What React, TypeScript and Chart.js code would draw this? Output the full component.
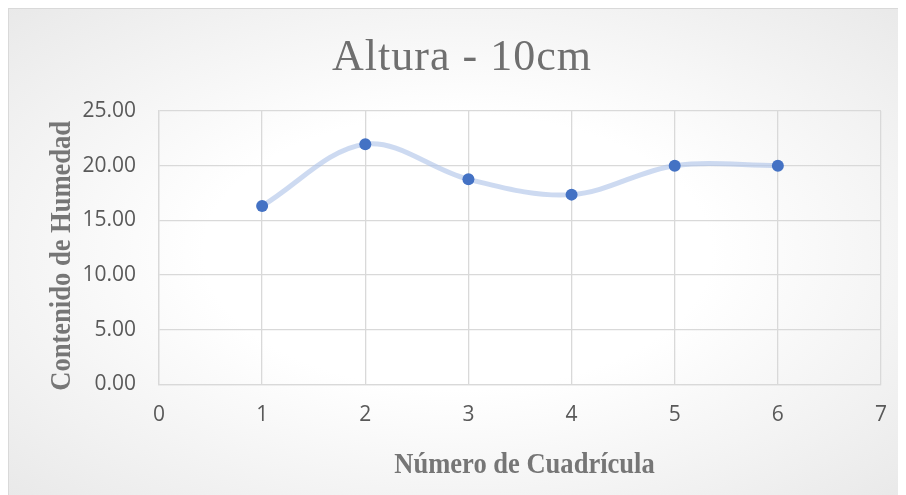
import React, { useEffect, useRef } from "react";
import { Chart, registerables } from "chart.js";

Chart.register(...registerables);

const chartTitle = "Altura - 10cm";
const xAxisTitle = "Número de Cuadrícula";
const yAxisTitle = "Contenido de Humedad";
const gridNumbers = [1, 2, 3, 4, 5, 6];
const humidity = [16.31, 21.96, 18.75, 17.35, 20.0, 20.0];
const xRange = [0, 7];
const yRange = [0, 25];
const yStep = 5;

const W = 897;
const H = 486;

const titlesPlugin = {
  id: "customTitles",
  afterDraw(chart: any) {
    const ctx = chart.ctx;
    ctx.save();
    ctx.fillStyle = "#6f6f6f";
    ctx.font = '44px "Liberation Serif", "Times New Roman", serif';
    ctx.textAlign = "center";
    ctx.textBaseline = "alphabetic";
    try { (ctx as any).letterSpacing = "1px"; } catch (e) {}
    ctx.fillText(chartTitle, 453, 60.5);
    try { (ctx as any).letterSpacing = "0px"; } catch (e) {}
    ctx.restore();

    ctx.save();
    ctx.fillStyle = "#767676";
    ctx.font = 'bold 29px "Liberation Serif", "Times New Roman", serif';
    ctx.textAlign = "center";
    ctx.textBaseline = "alphabetic";
    ctx.translate(515.5, 464.3);
    ctx.scale(0.915, 1);
    ctx.fillText(xAxisTitle, 0, 0);
    ctx.restore();

    ctx.save();
    ctx.fillStyle = "#767676";
    ctx.font = 'bold 29px "Liberation Serif", "Times New Roman", serif';
    ctx.textAlign = "center";
    ctx.textBaseline = "alphabetic";
    ctx.translate(61, 246.8);
    ctx.rotate(-Math.PI / 2);
    ctx.scale(0.915, 1);
    ctx.fillText(yAxisTitle, 0, 0);
    ctx.restore();
  },
};

export default function App() {
  const ref = useRef<HTMLCanvasElement | null>(null);

  useEffect(() => {
    if (!ref.current) return;
    const points = gridNumbers.map((x, i) => ({ x, y: humidity[i] }));
    const tickFont = { family: '"Open Sans", "Liberation Sans", sans-serif', size: 21 };
    const chart = new Chart(ref.current, {
      type: "scatter",
      data: {
        datasets: [
          {
            data: points,
            showLine: true,
            borderColor: "rgba(175, 196, 232, 0.62)",
            borderWidth: 5,
            tension: 0.35,
            backgroundColor: "#4472c4",
            pointBackgroundColor: "#4472c4",
            pointBorderColor: "#4472c4",
            pointRadius: 6,
            pointBorderWidth: 0,
          },
        ],
      },
      plugins: [titlesPlugin],
      options: {
        responsive: false,
        devicePixelRatio: 1,
        animation: false,
        layout: { padding: { top: 102, left: 60, right: 25, bottom: 50.7 } },
        plugins: {
          legend: { display: false },
          tooltip: { enabled: false },
          title: { display: false },
        },
        scales: {
          x: {
            type: "linear",
            min: xRange[0],
            max: xRange[1],
            afterFit: (s: any) => { s.height = 60; },
            ticks: { stepSize: 1, color: "#595959", font: tickFont, padding: 18 },
            grid: { color: "#d9d9d9", lineWidth: 1.3, drawTicks: false },
            border: { color: "#d9d9d9", width: 1.3 },
          },
          y: {
            type: "linear",
            min: yRange[0],
            max: yRange[1],
            afterFit: (s: any) => { s.width = 90; },
            ticks: {
              stepSize: yStep,
              color: "#595959",
              font: tickFont,
              padding: 23,
              callback: (v: any) => Number(v).toFixed(2),
            },
            grid: { color: "#d9d9d9", lineWidth: 1.3, drawTicks: false },
            border: { color: "#d9d9d9", width: 1.3 },
          },
        },
      },
    });
    return () => chart.destroy();
  }, []);

  return (
    <div
      style={{
        width: 898,
        height: 487,
        boxSizing: "border-box",
        borderTop: "1px solid #d9d9d9",
        borderLeft: "1px solid #d9d9d9",
        background: "radial-gradient(ellipse at 50% 50%, #ffffff 0%, #ffffff 40%, #e9e9e9 100%)",
        overflow: "hidden",
      }}
    >
      <canvas ref={ref} width={W} height={H} style={{ display: "block", width: W, height: H }} />
    </div>
  );
}
